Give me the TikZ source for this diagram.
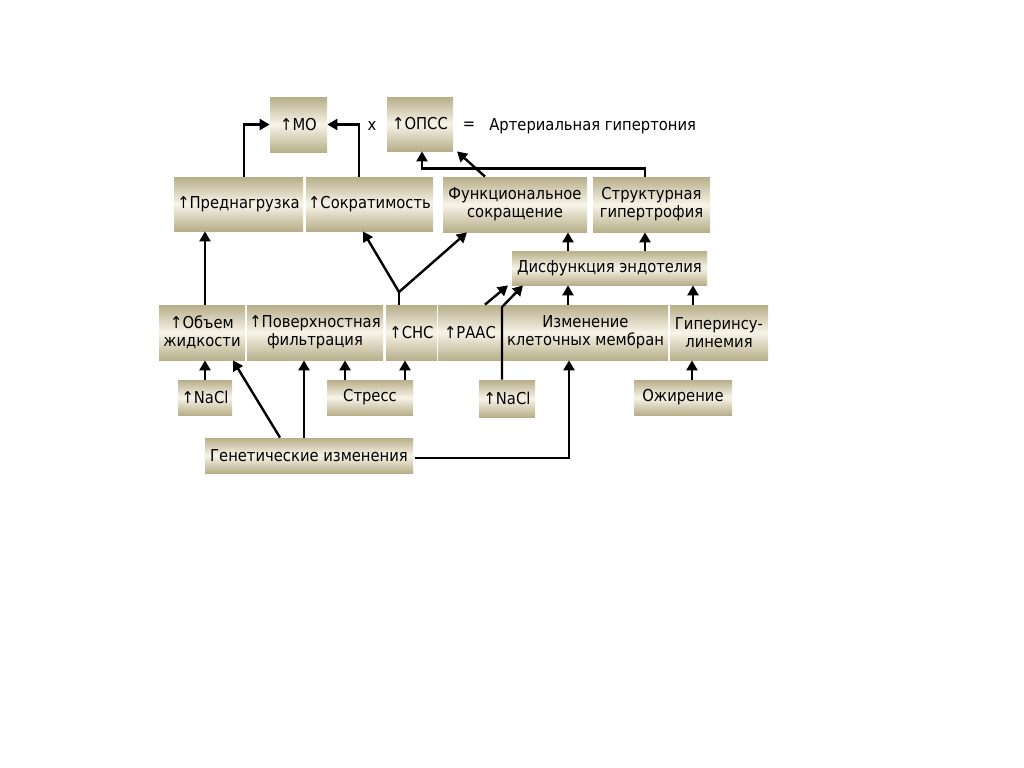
\documentclass[tikz,border=0pt]{standalone}
\usepackage{fontspec}
\newfontfamily\boxfont{DejaVu Sans Condensed}
\usetikzlibrary{calc,arrows.meta}
\definecolor{boxc}{RGB}{184,174,138}
\definecolor{boxw}{RGB}{247,244,232}
\tikzset{
	box/.style={inner sep=0pt, align=center, top color=boxc, bottom color=boxc, middle color=boxw, font=\boxfont\fontsize{8.2}{9}\selectfont},
	sz/.style 2 args={minimum width=#1*0.5pt, minimum height=#2*0.5pt},
	arr/.style={line width=1.2pt, -{Triangle[length=5pt,width=5.5pt]}},
	txt/.style={inner sep=0pt, font=\boxfont\fontsize{8.2}{9}\selectfont}
}

\begin{document}
\begin{tikzpicture}[x=0.5pt,y=-0.5pt]
		%%%%% FRAME %%%%%
		\useasboundingbox (0,0) rectangle (1024,767);
		
		%%%%% TOP %%%%%
		\node[box,sz={57}{55}] (mo) at (298.5,124.5) {↑МО};
		\node[txt] (times) at (372,126) {x};
		\node[box,sz={66}{54}] (opss) at (420,124) {↑ОПСС};
		\node[txt] (eq) at (469,126) {=};
		\node[txt,anchor=west] (ag) at (489,126) {Артериальная гипертония};
		
		%%%%% ROW 2 %%%%%
		\node[box,sz={129}{54}] (pred) at (238.5,204) {↑Преднагрузка};
		\node[box,sz={127}{54}] (sokr) at (369.5,204) {↑Сократимость};
		\node[box,sz={144}{55}] (funk) at (515,204.5) {Функциональное\\сокращение};
		\node[box,sz={117}{55}] (strukt) at (651.5,204.5) {Структурная\\гипертрофия};
		
		\node[box,sz={195}{34}] (disf) at (609.5,268) {Дисфункция эндотелия};
		
		%%%%% ROW 4 %%%%%
		\node[box,sz={86}{55}] (obem) at (202,332.5) {↑Объем\\жидкости};
		\node[box,sz={136}{55}] (pov) at (315,332.5) {↑Поверхностная\\фильтрация};
		\node[box,sz={51}{55}] (sns) at (411.5,332.5) {↑СНС};
		\node[box,sz={64}{55}] (raas) at (470,332.5) {↑РААС};
		\node[box,sz={165}{55}] (izm) at (585.5,332.5) {Изменение\\клеточных мембран};
		\node[box,sz={98}{55}] (giper) at (719,332.5) {Гиперинсу-\\линемия};
		
		%%%%% ROW 5 %%%%%
		\node[box,sz={54}{35}] (nacla) at (205,397.5) {↑NaCl};
		\node[box,sz={86}{35}] (stress) at (370,397.5) {Стресс};
		\node[box,sz={56}{37}] (naclb) at (507,398.5) {↑NaCl};
		\node[box,sz={98}{35}] (ozh) at (683,397.5) {Ожирение};
		\node[box,sz={208}{35}] (gen) at (309,455.5) {Генетические изменения};
		
		%%%%% ARROWS %%%%%
		\draw[arr] ($(pred.north)+(5.5,0)$) |- (mo.west);
		\draw[arr] ($(sokr.north)+(-10.5,0)$) |- (mo.east);
		\draw[arr] ($(strukt.north)+(-6.5,0)$) -- ++(0,-8) -| ($(opss.south)+(2,0)$);
		\draw[arr] ($(funk.north)+(-30,0)$) -- ($(opss.south)+(37,0)$);
		\draw[arr] ($(obem.north)+(3,0)$) -- ($(pred.south)+(-33.5,0)$);
		
		\coordinate (fork) at (399,292);
		\draw[line width=1.2pt] ($(sns.north)+(-12.5,0)$) -- (fork);
		\draw[arr] (fork) -- ($(sokr.south)+(-6.5,0)$);
		\draw[arr] (fork) -- ($(funk.south)+(-48,0)$);
		
		\draw[arr] ($(raas.north)+(15,0)$) -- ($(disf.south)+(-101.5,0)$);
		\coordinate (bend) at (502,307);
		\draw[arr] ($(naclb.north)+(-5,0)$) -- (bend) -- ($(disf.south)+(-86.5,0)$);
		\draw[arr] ($(izm.north)+(-17.5,0)$) -- ($(disf.south)+(-41.5,0)$);
		\draw[arr] ($(giper.north)+(-26,0)$) -- ($(disf.south)+(83.5,0)$);
		\draw[arr] ($(disf.north)+(-41.5,0)$) -- ($(funk.south)+(53,0)$);
		\draw[arr] ($(disf.north)+(35.5,0)$) -- ($(strukt.south)+(-6.5,0)$);
		
		\draw[arr] (nacla.north) -- ($(obem.south)+(3,0)$);
		\draw[arr] ($(gen.north)+(-29,0)$) -- ($(obem.south)+(31,0)$);
		\draw[arr] ($(gen.north)+(-5,0)$) -- ($(pov.south)+(-11,0)$);
		\draw[arr] ($(stress.north)+(-25,0)$) -- ($(pov.south)+(30,0)$);
		\draw[arr] ($(stress.north)+(35,0)$) -- ($(sns.south)+(-6.5,0)$);
		\draw[arr] ($(gen.east)+(2,2.5)$) -| ($(izm.south)+(-16.5,0)$);
		\draw[arr] ($(ozh.north)+(9,0)$) -- ($(giper.south)+(-27,0)$);
	\end{tikzpicture}
\end{document}
